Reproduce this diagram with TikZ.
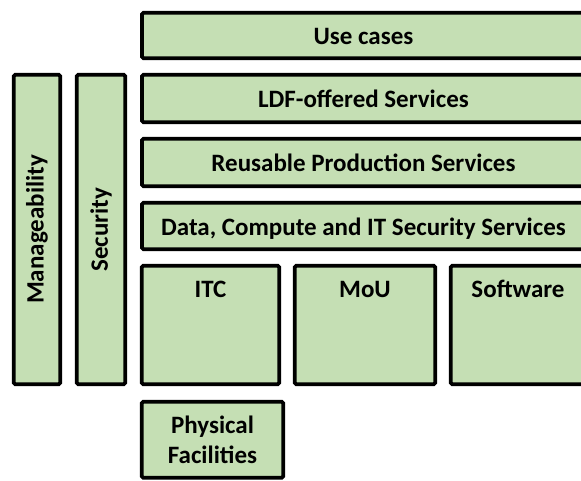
\documentclass[tikz,border=0pt]{standalone}
\usepackage{fontspec}
\setmainfont{Carlito}
\definecolor{boxgreen}{HTML}{C5DFB4}
\begin{document}
\begin{tikzpicture}[x=1pt,y=-1pt,
  box/.style={draw=black, fill=boxgreen, line width=3.6pt, rounded corners=1.5pt, inner sep=0pt, minimum width=#1},
  lbl/.style={font=\fontsize{25}{30}\selectfont\bfseries, inner sep=0pt, align=center}]
\useasboundingbox (0,0) rectangle (581,481);
\begin{scope}
\clip (0,0) rectangle (581,481);
% horizontal layers
\node[box=443pt, minimum height=45.5pt] (use) at (363.5,35.5) {};
\node[box=443pt, minimum height=47.5pt] (ldf) at (363.5,98.5) {};
\node[box=443pt, minimum height=47.5pt] (reu) at (363.5,162.5) {};
\node[box=443pt, minimum height=46.5pt] (dat) at (363.5,226) {};
% resource boxes
\node[box=137.5pt, minimum height=118.5pt] (itc) at (210.5,325) {};
\node[box=140.5pt, minimum height=118.5pt] (mou) at (365,325) {};
\node[box=134.5pt, minimum height=118.5pt] (sw) at (518,325) {};
\node[box=141.5pt, minimum height=76pt] (phy) at (212.5,439.75) {};
% vertical pillars
\node[box=46.5pt, minimum height=309.5pt] (man) at (37,229.5) {};
\node[box=48.5pt, minimum height=309.5pt] (sec) at (101,229.5) {};
\end{scope}
% labels
\node[lbl, anchor=base] (tuse) at (363.5,45) {Use cases};
\node[lbl, anchor=base] (tldf) at (363.5,108) {LDF-offered Services};
\node[lbl, anchor=base] (treu) at (363.5,172) {Reusable Production Services};
\node[lbl, anchor=base] (tdat) at (363.5,236) {Data, Compute and IT Security Services};
\node[lbl, anchor=base] (titc) at (210.5,297) {ITC};
\node[lbl, anchor=base] (tmou) at (365,297) {MoU};
\node[lbl, anchor=base] (tsw) at (518,297) {Software};
\node[lbl] (tphy) at (phy.center) {Physical\\Facilities};
\node[lbl, rotate=90] (tman) at (man.center) {Manageability};
\node[lbl, rotate=90] (tsec) at (sec.center) {Security};
\end{tikzpicture}
\end{document}
